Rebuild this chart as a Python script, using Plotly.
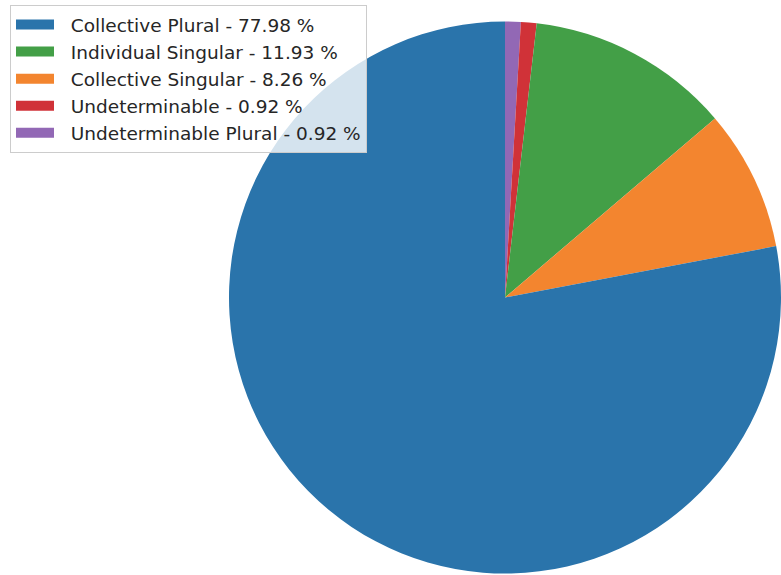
import plotly.graph_objects as go

# Slice data (drawing order, clockwise from 12 o'clock)
categories = ["Undeterminable Plural", "Undeterminable", "Individual Singular",
              "Collective Singular", "Collective Plural"]
counts = [1, 1, 13, 9, 85]
colors = ["#9268b5", "#d03238", "#439f47", "#f3852f", "#2a74ab"]

# Legend order (as shown in the reference)
legend_order = ["Collective Plural", "Individual Singular", "Collective Singular",
                "Undeterminable", "Undeterminable Plural"]

total = sum(counts)
pct = {c: v / total * 100 for c, v in zip(categories, counts)}
col = dict(zip(categories, colors))

W, H = 781, 575

fig = go.Figure()
fig.add_trace(go.Pie(
    labels=categories, values=counts, sort=False, direction="clockwise",
    rotation=0, marker=dict(colors=colors, line=dict(width=0)),
    textinfo="none", hoverinfo="label+percent", showlegend=False,
    domain=dict(x=[0.2932, 1.0], y=[0.0026, 0.9626]),
))

for c in legend_order:
    fig.add_trace(go.Scatter(
        x=[None], y=[None], mode="lines",
        line=dict(color=col[c], width=12),
        name="\u00a0\u00a0" + f"{c} - {pct[c]:.2f} %",
    ))

fig.update_layout(
    width=W, height=H,
    margin=dict(l=0, r=0, t=0, b=0),
    paper_bgcolor="white", plot_bgcolor="white",
    xaxis=dict(visible=False), yaxis=dict(visible=False),
    font=dict(family="DejaVu Sans", size=18.5, color="#262626"),
    legend=dict(
        x=10 / W, y=1 - 5 / H, xanchor="left", yanchor="top",
        bgcolor="rgba(255,255,255,0.8)", bordercolor="#cccccc", borderwidth=1,
        itemwidth=38,
    ),
)

fig.write_html("out.html", config={"displayModeBar": False},
               post_script="document.body.style.margin='0';document.body.style.overflow='hidden';")
